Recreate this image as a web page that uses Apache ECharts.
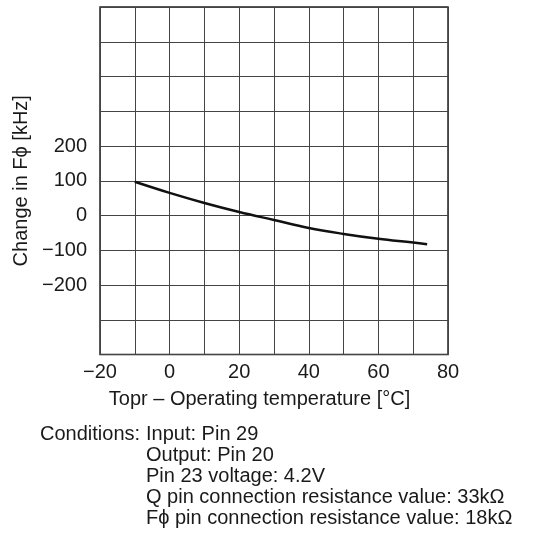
<!DOCTYPE html>
<html><head><meta charset="utf-8">
<script src="https://cdn.jsdelivr.net/npm/echarts@6/dist/echarts.min.js"></script>
<style>html,body{margin:0;padding:0;background:#fff}#c{width:554px;height:560px}</style>
</head><body><div id="c"></div>
<script>
const temps = [-10, 0, 10, 20, 30, 40, 50, 60, 70, 74];
const changes = [97, 65, 36, 10, -13, -36, -53, -67, -78, -83];
const yLabelValues = [-200, -100, 0, 100, 200];
const conditionLines = [
  'Input: Pin 29',
  'Output: Pin 20',
  'Pin 23 voltage: 4.2V',
  'Q pin connection resistance value: 33kΩ',
  'Fϕ pin connection resistance value: 18kΩ'
];
const FONT = '"Liberation Sans", Arial, sans-serif';
const FS = 20;
const TXT = '#1a1a1a';
const fmt = v => (v < 0 ? '\u2212' + Math.abs(v) : String(v));
const chart = echarts.init(document.getElementById('c'), null, {renderer: 'canvas'});
const graphics = [{
  type: 'text', left: 40, top: 424,
  style: {text: 'Conditions:', font: FS + 'px ' + FONT, fill: TXT}
}];
conditionLines.forEach((t, i) => graphics.push({
  type: 'text', left: 146, top: 424 + i * 21,
  style: {text: t, font: FS + 'px ' + FONT, fill: TXT}
}));
chart.setOption({
  animation: false,
  backgroundColor: '#fff',
  grid: {left: 100, right: 106, top: 7, bottom: 205.5, show: true, borderColor: '#222', borderWidth: 1.5, backgroundColor: 'transparent'},
  xAxis: {
    type: 'value', min: -20, max: 80, interval: 10,
    name: 'Topr \u2013 Operating temperature [°C]', nameLocation: 'middle', nameGap: 35,
    nameTextStyle: {fontFamily: FONT, fontSize: FS, color: TXT, padding: [0, 29, 0, 0]},
    axisLine: {show: false}, axisTick: {show: false},
    axisLabel: {fontFamily: FONT, fontSize: FS, color: TXT, margin: 8,
      formatter: v => (v % 20 === 0 ? fmt(v) : '')},
    splitLine: {show: true, lineStyle: {color: '#444', width: 1}}
  },
  yAxis: {
    type: 'value', min: -400, max: 600, interval: 100,
    name: 'Change in Fϕ [kHz]', nameLocation: 'middle', nameGap: 67,
    nameTextStyle: {fontFamily: FONT, fontSize: FS, color: TXT},
    axisLine: {show: false}, axisTick: {show: false},
    axisLabel: {fontFamily: FONT, fontSize: FS, color: TXT, margin: 13,
      formatter: v => (yLabelValues.includes(v) ? fmt(v) : '')},
    splitLine: {show: true, lineStyle: {color: '#444', width: 1}}
  },
  series: [{
    type: 'line', smooth: 0.4, showSymbol: false,
    data: temps.map((t, i) => [t, changes[i]]),
    lineStyle: {color: '#111', width: 2.5}
  }],
  graphic: graphics
});
</script></body></html>
